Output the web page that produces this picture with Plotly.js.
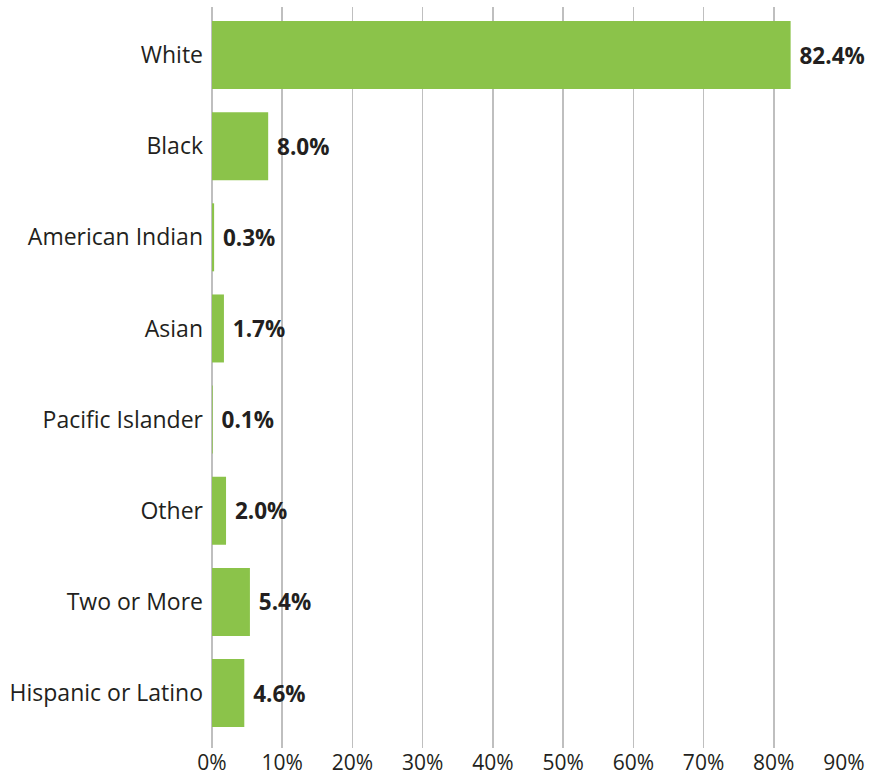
<!DOCTYPE html>
<html>
<head>
<meta charset="utf-8">
<script src="https://cdn.plot.ly/plotly-3.0.1.min.js"></script>
<style>html,body{margin:0;padding:0;background:#fff;}#chart{width:869px;height:778px;}</style>
</head>
<body>
<div id="chart"></div>
<script>
const categories = ["White", "Black", "American Indian", "Asian", "Pacific Islander", "Other", "Two or More", "Hispanic or Latino"];
const values = [82.4, 8.0, 0.3, 1.7, 0.1, 2.0, 5.4, 4.6];
const tickValues = [0, 10, 20, 30, 40, 50, 60, 70, 80, 90];

const trace = {
  type: 'bar',
  orientation: 'h',
  y: categories,
  x: values,
  width: 0.746,
  marker: {color: '#8BC34A', line: {width: 0}},
  text: values.map(v => '\u00a0' + v.toFixed(1) + '%'),
  textposition: 'outside',
  textfont: {family: 'Open Sans', size: 22.5, color: '#231F20', weight: 'bold'},
  cliponaxis: false,
  hoverinfo: 'none'
};

const layout = {
  width: 869, height: 778,
  margin: {l: 212, r: 25, t: 7, b: 30},
  paper_bgcolor: '#ffffff', plot_bgcolor: '#ffffff',
  showlegend: false,
  font: {family: 'Open Sans', color: '#231F20'},
  xaxis: {
    range: [0, 90],
    tickvals: tickValues,
    ticktext: tickValues.map(v => v + '%'),
    showgrid: true, gridcolor: '#BFBFBF', gridwidth: 1.5,
    zeroline: true, zerolinecolor: '#BFBFBF', zerolinewidth: 1.5,
    showline: false, ticks: '',
    tickfont: {family: 'Open Sans', size: 21, color: '#231F20'},
    fixedrange: true
  },
  yaxis: {
    type: 'category',
    range: [7.603, -0.527],
    showgrid: false, zeroline: false, showline: false, ticks: '',
    ticklabelstandoff: 8,
    tickfont: {family: 'Open Sans', size: 23, color: '#231F20'},
    fixedrange: true
  },
  bargap: 0.25
};

Plotly.newPlot('chart', [trace], layout, {displayModeBar: false, staticPlot: true});
</script>
</body>
</html>
